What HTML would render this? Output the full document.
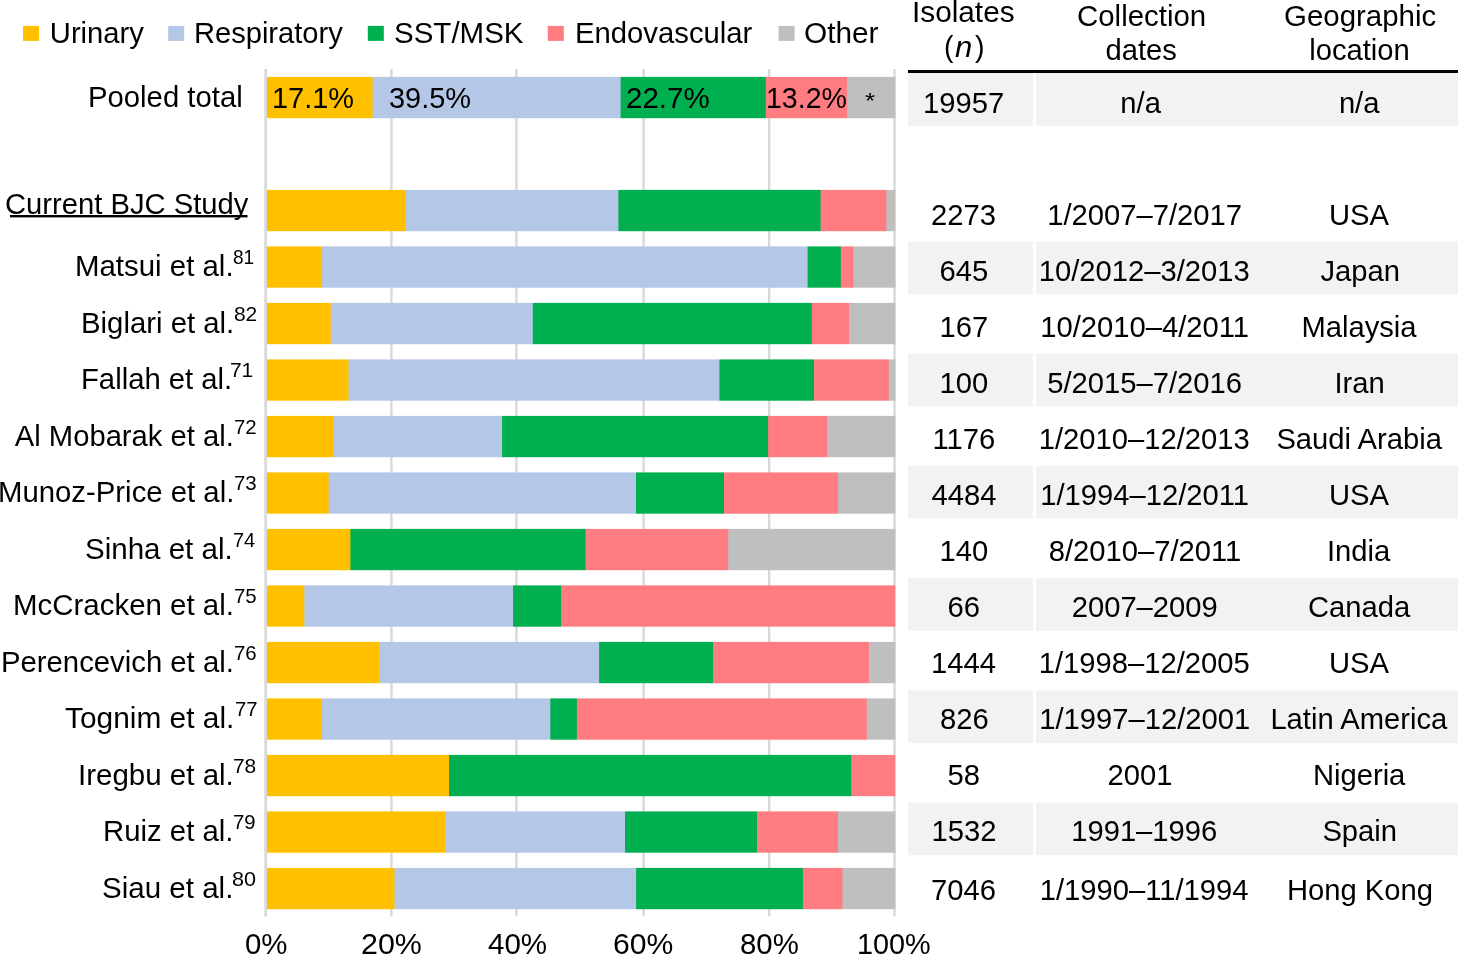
<!DOCTYPE html>
<html><head><meta charset="utf-8"><style>
html,body{margin:0;padding:0;background:#fff;}
body{width:1458px;height:955px;position:relative;overflow:hidden;font-family:"Liberation Sans", sans-serif;color:#000;}
.bg{position:absolute;left:0;top:0;}
.tx{position:absolute;left:0;top:0;width:1458px;height:955px;will-change:transform;}
.t{position:absolute;white-space:nowrap;line-height:40px;transform-origin:0 0;}
</style></head><body>
<svg class="bg" width="1458" height="955" viewBox="0 0 1458 955"><rect x="908.00" y="70.00" width="550.00" height="3.00" fill="#000"/><rect x="908.00" y="73.20" width="125.00" height="52.70" fill="#F2F2F2"/><rect x="1036.00" y="73.20" width="422.00" height="52.70" fill="#F2F2F2"/><rect x="908.00" y="241.50" width="125.00" height="52.70" fill="#F2F2F2"/><rect x="1036.00" y="241.50" width="422.00" height="52.70" fill="#F2F2F2"/><rect x="908.00" y="353.70" width="125.00" height="52.70" fill="#F2F2F2"/><rect x="1036.00" y="353.70" width="422.00" height="52.70" fill="#F2F2F2"/><rect x="908.00" y="465.90" width="125.00" height="52.70" fill="#F2F2F2"/><rect x="1036.00" y="465.90" width="422.00" height="52.70" fill="#F2F2F2"/><rect x="908.00" y="578.10" width="125.00" height="52.70" fill="#F2F2F2"/><rect x="1036.00" y="578.10" width="422.00" height="52.70" fill="#F2F2F2"/><rect x="908.00" y="690.30" width="125.00" height="52.70" fill="#F2F2F2"/><rect x="1036.00" y="690.30" width="422.00" height="52.70" fill="#F2F2F2"/><rect x="908.00" y="802.50" width="125.00" height="52.70" fill="#F2F2F2"/><rect x="1036.00" y="802.50" width="422.00" height="52.70" fill="#F2F2F2"/><rect x="23.00" y="25.90" width="16.00" height="15.00" fill="#FFC000"/><rect x="168.20" y="25.90" width="16.00" height="15.00" fill="#B4C7E7"/><rect x="367.80" y="25.90" width="16.00" height="15.00" fill="#00B050"/><rect x="547.80" y="25.90" width="16.00" height="15.00" fill="#FF7C80"/><rect x="778.60" y="25.90" width="16.00" height="15.00" fill="#BFBFBF"/><rect x="390.20" y="69.00" width="2.40" height="847.50" fill="#D9D9D9"/><rect x="515.20" y="69.00" width="2.40" height="847.50" fill="#D9D9D9"/><rect x="642.40" y="69.00" width="2.40" height="847.50" fill="#D9D9D9"/><rect x="768.00" y="69.00" width="2.40" height="847.50" fill="#D9D9D9"/><rect x="893.30" y="69.00" width="2.40" height="847.50" fill="#D9D9D9"/><rect x="264.30" y="69.00" width="2.70" height="847.50" fill="#D9D9D9"/><mask id="c0" maskUnits="userSpaceOnUse" x="0" y="0" width="1458" height="955"><rect x="267" y="76.90" width="628.30" height="41.30" fill="#fff"/></mask><g mask="url(#c0)"><rect x="267.00" y="74.90" width="628.30" height="45.30" fill="#FFC000"/><rect x="372.60" y="74.90" width="522.70" height="45.30" fill="#B4C7E7"/><rect x="620.60" y="74.90" width="274.70" height="45.30" fill="#00B050"/><rect x="765.80" y="74.90" width="129.50" height="45.30" fill="#FF7C80"/><rect x="847.10" y="74.90" width="48.20" height="45.30" fill="#BFBFBF"/></g><mask id="c2" maskUnits="userSpaceOnUse" x="0" y="0" width="1458" height="955"><rect x="267" y="189.90" width="628.30" height="41.30" fill="#fff"/></mask><g mask="url(#c2)"><rect x="267.00" y="187.90" width="628.30" height="45.30" fill="#FFC000"/><rect x="405.50" y="187.90" width="489.80" height="45.30" fill="#B4C7E7"/><rect x="618.40" y="187.90" width="276.90" height="45.30" fill="#00B050"/><rect x="820.60" y="187.90" width="74.70" height="45.30" fill="#FF7C80"/><rect x="886.40" y="187.90" width="8.90" height="45.30" fill="#BFBFBF"/></g><mask id="c3" maskUnits="userSpaceOnUse" x="0" y="0" width="1458" height="955"><rect x="267" y="246.40" width="628.30" height="41.30" fill="#fff"/></mask><g mask="url(#c3)"><rect x="267.00" y="244.40" width="628.30" height="45.30" fill="#FFC000"/><rect x="322.10" y="244.40" width="573.20" height="45.30" fill="#B4C7E7"/><rect x="807.60" y="244.40" width="87.70" height="45.30" fill="#00B050"/><rect x="840.80" y="244.40" width="54.50" height="45.30" fill="#FF7C80"/><rect x="853.50" y="244.40" width="41.80" height="45.30" fill="#BFBFBF"/></g><mask id="c4" maskUnits="userSpaceOnUse" x="0" y="0" width="1458" height="955"><rect x="267" y="302.90" width="628.30" height="41.30" fill="#fff"/></mask><g mask="url(#c4)"><rect x="267.00" y="300.90" width="628.30" height="45.30" fill="#FFC000"/><rect x="330.70" y="300.90" width="564.60" height="45.30" fill="#B4C7E7"/><rect x="532.80" y="300.90" width="362.50" height="45.30" fill="#00B050"/><rect x="811.80" y="300.90" width="83.50" height="45.30" fill="#FF7C80"/><rect x="849.10" y="300.90" width="46.20" height="45.30" fill="#BFBFBF"/></g><mask id="c5" maskUnits="userSpaceOnUse" x="0" y="0" width="1458" height="955"><rect x="267" y="359.40" width="628.30" height="41.30" fill="#fff"/></mask><g mask="url(#c5)"><rect x="267.00" y="357.40" width="628.30" height="45.30" fill="#FFC000"/><rect x="348.50" y="357.40" width="546.80" height="45.30" fill="#B4C7E7"/><rect x="719.40" y="357.40" width="175.90" height="45.30" fill="#00B050"/><rect x="814.00" y="357.40" width="81.30" height="45.30" fill="#FF7C80"/><rect x="888.80" y="357.40" width="6.50" height="45.30" fill="#BFBFBF"/></g><mask id="c6" maskUnits="userSpaceOnUse" x="0" y="0" width="1458" height="955"><rect x="267" y="415.90" width="628.30" height="41.30" fill="#fff"/></mask><g mask="url(#c6)"><rect x="267.00" y="413.90" width="628.30" height="45.30" fill="#FFC000"/><rect x="333.10" y="413.90" width="562.20" height="45.30" fill="#B4C7E7"/><rect x="502.10" y="413.90" width="393.20" height="45.30" fill="#00B050"/><rect x="768.10" y="413.90" width="127.20" height="45.30" fill="#FF7C80"/><rect x="827.10" y="413.90" width="68.20" height="45.30" fill="#BFBFBF"/></g><mask id="c7" maskUnits="userSpaceOnUse" x="0" y="0" width="1458" height="955"><rect x="267" y="472.40" width="628.30" height="41.30" fill="#fff"/></mask><g mask="url(#c7)"><rect x="267.00" y="470.40" width="628.30" height="45.30" fill="#FFC000"/><rect x="328.70" y="470.40" width="566.60" height="45.30" fill="#B4C7E7"/><rect x="636.00" y="470.40" width="259.30" height="45.30" fill="#00B050"/><rect x="724.00" y="470.40" width="171.30" height="45.30" fill="#FF7C80"/><rect x="838.10" y="470.40" width="57.20" height="45.30" fill="#BFBFBF"/></g><mask id="c8" maskUnits="userSpaceOnUse" x="0" y="0" width="1458" height="955"><rect x="267" y="528.90" width="628.30" height="41.30" fill="#fff"/></mask><g mask="url(#c8)"><rect x="267.00" y="526.90" width="628.30" height="45.30" fill="#FFC000"/><rect x="350.40" y="526.90" width="544.90" height="45.30" fill="#00B050"/><rect x="585.50" y="526.90" width="309.80" height="45.30" fill="#FF7C80"/><rect x="728.20" y="526.90" width="167.10" height="45.30" fill="#BFBFBF"/></g><mask id="c9" maskUnits="userSpaceOnUse" x="0" y="0" width="1458" height="955"><rect x="267" y="585.40" width="628.30" height="41.30" fill="#fff"/></mask><g mask="url(#c9)"><rect x="267.00" y="583.40" width="628.30" height="45.30" fill="#FFC000"/><rect x="304.30" y="583.40" width="591.00" height="45.30" fill="#B4C7E7"/><rect x="513.10" y="583.40" width="382.20" height="45.30" fill="#00B050"/><rect x="561.10" y="583.40" width="334.20" height="45.30" fill="#FF7C80"/></g><mask id="c10" maskUnits="userSpaceOnUse" x="0" y="0" width="1458" height="955"><rect x="267" y="641.90" width="628.30" height="41.30" fill="#fff"/></mask><g mask="url(#c10)"><rect x="267.00" y="639.90" width="628.30" height="45.30" fill="#FFC000"/><rect x="379.20" y="639.90" width="516.10" height="45.30" fill="#B4C7E7"/><rect x="599.10" y="639.90" width="296.20" height="45.30" fill="#00B050"/><rect x="713.00" y="639.90" width="182.30" height="45.30" fill="#FF7C80"/><rect x="868.90" y="639.90" width="26.40" height="45.30" fill="#BFBFBF"/></g><mask id="c11" maskUnits="userSpaceOnUse" x="0" y="0" width="1458" height="955"><rect x="267" y="698.40" width="628.30" height="41.30" fill="#fff"/></mask><g mask="url(#c11)"><rect x="267.00" y="696.40" width="628.30" height="45.30" fill="#FFC000"/><rect x="322.00" y="696.40" width="573.30" height="45.30" fill="#B4C7E7"/><rect x="550.30" y="696.40" width="345.00" height="45.30" fill="#00B050"/><rect x="576.90" y="696.40" width="318.40" height="45.30" fill="#FF7C80"/><rect x="866.80" y="696.40" width="28.50" height="45.30" fill="#BFBFBF"/></g><mask id="c12" maskUnits="userSpaceOnUse" x="0" y="0" width="1458" height="955"><rect x="267" y="754.90" width="628.30" height="41.30" fill="#fff"/></mask><g mask="url(#c12)"><rect x="267.00" y="752.90" width="628.30" height="45.30" fill="#FFC000"/><rect x="449.00" y="752.90" width="446.30" height="45.30" fill="#00B050"/><rect x="851.20" y="752.90" width="44.10" height="45.30" fill="#FF7C80"/></g><mask id="c13" maskUnits="userSpaceOnUse" x="0" y="0" width="1458" height="955"><rect x="267" y="811.40" width="628.30" height="41.30" fill="#fff"/></mask><g mask="url(#c13)"><rect x="267.00" y="809.40" width="628.30" height="45.30" fill="#FFC000"/><rect x="445.00" y="809.40" width="450.30" height="45.30" fill="#B4C7E7"/><rect x="625.00" y="809.40" width="270.30" height="45.30" fill="#00B050"/><rect x="757.00" y="809.40" width="138.30" height="45.30" fill="#FF7C80"/><rect x="838.00" y="809.40" width="57.30" height="45.30" fill="#BFBFBF"/></g><mask id="c14" maskUnits="userSpaceOnUse" x="0" y="0" width="1458" height="955"><rect x="267" y="867.90" width="628.30" height="41.30" fill="#fff"/></mask><g mask="url(#c14)"><rect x="267.00" y="865.90" width="628.30" height="45.30" fill="#FFC000"/><rect x="394.50" y="865.90" width="500.80" height="45.30" fill="#B4C7E7"/><rect x="636.10" y="865.90" width="259.20" height="45.30" fill="#00B050"/><rect x="802.90" y="865.90" width="92.40" height="45.30" fill="#FF7C80"/><rect x="842.50" y="865.90" width="52.80" height="45.30" fill="#BFBFBF"/></g><rect x="10.00" y="215.00" width="237.50" height="2.40" fill="#000"/></svg>
<div class="tx">
<div class="t" style="left:49.80px;top:12.80px;font-size:29.2px;">Urinary</div>
<div class="t" style="left:193.81px;top:12.80px;font-size:29.2px;transform:scaleX(0.9966);">Respiratory</div>
<div class="t" style="left:394.18px;top:12.80px;font-size:29.2px;transform:scaleX(1.0112);">SST/MSK</div>
<div class="t" style="left:574.69px;top:12.80px;font-size:29.2px;transform:scaleX(1.0029);">Endovascular</div>
<div class="t" style="left:803.86px;top:12.80px;font-size:29.2px;transform:scaleX(1.0200);">Other</div>
<div class="t" style="left:245.49px;top:924.00px;font-size:29.2px;transform:scaleX(1.0075);">0%</div>
<div class="t" style="left:361.22px;top:924.00px;font-size:29.2px;transform:scaleX(1.0418);">20%</div>
<div class="t" style="left:488.29px;top:924.00px;font-size:29.2px;transform:scaleX(1.0125);">40%</div>
<div class="t" style="left:612.63px;top:924.00px;font-size:29.2px;transform:scaleX(1.0327);">60%</div>
<div class="t" style="left:739.59px;top:924.00px;font-size:29.2px;transform:scaleX(1.0054);">80%</div>
<div class="t" style="left:857.12px;top:924.00px;font-size:29.2px;transform:scaleX(0.9875);">100%</div>
<div class="t" style="left:88.49px;top:77.20px;font-size:29.2px;transform:scaleX(1.0033);">Pooled total</div>
<div class="t" style="left:5.00px;top:184.00px;font-size:29.2px;">Current BJC Study</div>
<div class="t" style="left:74.88px;top:246.30px;font-size:29.2px;transform:scaleX(1.0078);">Matsui et al.</div>
<div class="t" style="left:232.79px;top:237.20px;font-size:21px;transform:scaleX(0.9095);">81</div>
<div class="t" style="left:80.79px;top:302.80px;font-size:29.2px;transform:scaleX(1.0047);">Biglari et al.</div>
<div class="t" style="left:233.90px;top:293.70px;font-size:21px;">82</div>
<div class="t" style="left:81.30px;top:359.30px;font-size:29.2px;transform:scaleX(1.0021);">Fallah et al.</div>
<div class="t" style="left:229.90px;top:350.20px;font-size:21px;">71</div>
<div class="t" style="left:14.80px;top:415.80px;font-size:29.2px;">Al Mobarak et al.</div>
<div class="t" style="left:233.83px;top:406.70px;font-size:21px;transform:scaleX(0.9714);">72</div>
<div class="t" style="left:-2.01px;top:472.30px;font-size:29.2px;transform:scaleX(1.0048);">Munoz-Price et al.</div>
<div class="t" style="left:234.23px;top:463.20px;font-size:21px;transform:scaleX(0.9714);">73</div>
<div class="t" style="left:85.38px;top:528.80px;font-size:29.2px;transform:scaleX(1.0113);">Sinha et al.</div>
<div class="t" style="left:232.75px;top:519.70px;font-size:21px;transform:scaleX(0.9500);">74</div>
<div class="t" style="left:13.18px;top:585.30px;font-size:29.2px;transform:scaleX(1.0089);">McCracken et al.</div>
<div class="t" style="left:234.23px;top:576.20px;font-size:21px;transform:scaleX(0.9714);">75</div>
<div class="t" style="left:0.79px;top:641.80px;font-size:29.2px;transform:scaleX(1.0035);">Perencevich et al.</div>
<div class="t" style="left:233.83px;top:632.70px;font-size:21px;transform:scaleX(0.9714);">76</div>
<div class="t" style="left:64.68px;top:698.30px;font-size:29.2px;transform:scaleX(1.0235);">Tognim et al.</div>
<div class="t" style="left:234.63px;top:689.20px;font-size:21px;transform:scaleX(0.9667);">77</div>
<div class="t" style="left:77.57px;top:754.80px;font-size:29.2px;transform:scaleX(1.0108);">Iregbu et al.</div>
<div class="t" style="left:232.70px;top:745.70px;font-size:21px;transform:scaleX(0.9952);">78</div>
<div class="t" style="left:102.59px;top:811.30px;font-size:29.2px;transform:scaleX(1.0048);">Ruiz et al.</div>
<div class="t" style="left:233.33px;top:802.20px;font-size:21px;transform:scaleX(0.9667);">79</div>
<div class="t" style="left:101.68px;top:867.80px;font-size:29.2px;transform:scaleX(1.0120);">Siau et al.</div>
<div class="t" style="left:231.97px;top:858.70px;font-size:21px;transform:scaleX(1.0286);">80</div>
<div class="t" style="left:272.02px;top:78.40px;font-size:29.2px;transform:scaleX(0.9900);">17.1%</div>
<div class="t" style="left:389.31px;top:78.40px;font-size:29.2px;transform:scaleX(0.9914);">39.5%</div>
<div class="t" style="left:625.78px;top:78.40px;font-size:29.2px;transform:scaleX(1.0100);">22.7%</div>
<div class="t" style="left:765.75px;top:78.40px;font-size:29.2px;transform:scaleX(0.9775);">13.2%</div>
<div class="t" style="left:864.81px;top:81.30px;font-size:22px;transform:scaleX(1.1857);">*</div>
<div class="t" style="left:923.00px;top:82.60px;font-size:29.2px;">19957</div>
<div class="t" style="left:1120.30px;top:82.60px;font-size:29.2px;">n/a</div>
<div class="t" style="left:1338.90px;top:82.60px;font-size:29.2px;">n/a</div>
<div class="t" style="left:931.00px;top:194.70px;font-size:29.2px;">2273</div>
<div class="t" style="left:1047.20px;top:194.70px;font-size:29.2px;">1/2007–7/2017</div>
<div class="t" style="left:1328.90px;top:194.70px;font-size:29.2px;">USA</div>
<div class="t" style="left:939.50px;top:250.75px;font-size:29.2px;">645</div>
<div class="t" style="left:1038.70px;top:250.75px;font-size:29.2px;">10/2012–3/2013</div>
<div class="t" style="left:1320.40px;top:250.75px;font-size:29.2px;">Japan</div>
<div class="t" style="left:939.50px;top:306.80px;font-size:29.2px;">167</div>
<div class="t" style="left:1040.20px;top:306.80px;font-size:29.2px;">10/2010–4/2011</div>
<div class="t" style="left:1301.40px;top:306.80px;font-size:29.2px;">Malaysia</div>
<div class="t" style="left:939.50px;top:362.85px;font-size:29.2px;">100</div>
<div class="t" style="left:1047.20px;top:362.85px;font-size:29.2px;">5/2015–7/2016</div>
<div class="t" style="left:1334.40px;top:362.85px;font-size:29.2px;">Iran</div>
<div class="t" style="left:932.50px;top:418.90px;font-size:29.2px;">1176</div>
<div class="t" style="left:1038.70px;top:418.90px;font-size:29.2px;">1/2010–12/2013</div>
<div class="t" style="left:1276.40px;top:418.90px;font-size:29.2px;">Saudi Arabia</div>
<div class="t" style="left:931.50px;top:474.95px;font-size:29.2px;">4484</div>
<div class="t" style="left:1040.20px;top:474.95px;font-size:29.2px;">1/1994–12/2011</div>
<div class="t" style="left:1328.90px;top:474.95px;font-size:29.2px;">USA</div>
<div class="t" style="left:939.50px;top:531.00px;font-size:29.2px;">140</div>
<div class="t" style="left:1048.70px;top:531.00px;font-size:29.2px;">8/2010–7/2011</div>
<div class="t" style="left:1326.90px;top:531.00px;font-size:29.2px;">India</div>
<div class="t" style="left:947.50px;top:587.05px;font-size:29.2px;">66</div>
<div class="t" style="left:1071.70px;top:587.05px;font-size:29.2px;">2007–2009</div>
<div class="t" style="left:1307.90px;top:587.05px;font-size:29.2px;">Canada</div>
<div class="t" style="left:931.00px;top:643.10px;font-size:29.2px;">1444</div>
<div class="t" style="left:1038.70px;top:643.10px;font-size:29.2px;">1/1998–12/2005</div>
<div class="t" style="left:1328.90px;top:643.10px;font-size:29.2px;">USA</div>
<div class="t" style="left:940.00px;top:699.15px;font-size:29.2px;">826</div>
<div class="t" style="left:1039.20px;top:699.15px;font-size:29.2px;">1/1997–12/2001</div>
<div class="t" style="left:1270.40px;top:699.15px;font-size:29.2px;">Latin America</div>
<div class="t" style="left:947.50px;top:755.20px;font-size:29.2px;">58</div>
<div class="t" style="left:1107.50px;top:755.20px;font-size:29.2px;">2001</div>
<div class="t" style="left:1312.90px;top:755.20px;font-size:29.2px;">Nigeria</div>
<div class="t" style="left:931.50px;top:811.25px;font-size:29.2px;">1532</div>
<div class="t" style="left:1071.20px;top:811.25px;font-size:29.2px;">1991–1996</div>
<div class="t" style="left:1322.40px;top:811.25px;font-size:29.2px;">Spain</div>
<div class="t" style="left:931.00px;top:869.80px;font-size:29.2px;">7046</div>
<div class="t" style="left:1039.70px;top:869.80px;font-size:29.2px;">1/1990–11/1994</div>
<div class="t" style="left:1286.90px;top:869.80px;font-size:29.2px;">Hong Kong</div>
<div class="t" style="left:912.34px;top:-8.50px;font-size:29.2px;transform:scaleX(1.0198);">Isolates</div>
<div class="t" style="left:944.06px;top:26.70px;font-size:29.2px;transform:scaleX(0.9714);">(</div>
<div class="t" style="left:954.84px;top:26.70px;font-size:29.2px;transform:scaleX(1.0643);"><i>n</i></div>
<div class="t" style="left:974.61px;top:26.70px;font-size:29.2px;transform:scaleX(0.9857);">)</div>
<div class="t" style="left:1076.78px;top:-4.20px;font-size:29.2px;transform:scaleX(1.0081);">Collection</div>
<div class="t" style="left:1105.50px;top:30.20px;font-size:29.2px;">dates</div>
<div class="t" style="left:1283.68px;top:-4.20px;font-size:29.2px;transform:scaleX(1.0088);">Geographic</div>
<div class="t" style="left:1309.20px;top:30.20px;font-size:29.2px;">location</div>
</div>
</body></html>
